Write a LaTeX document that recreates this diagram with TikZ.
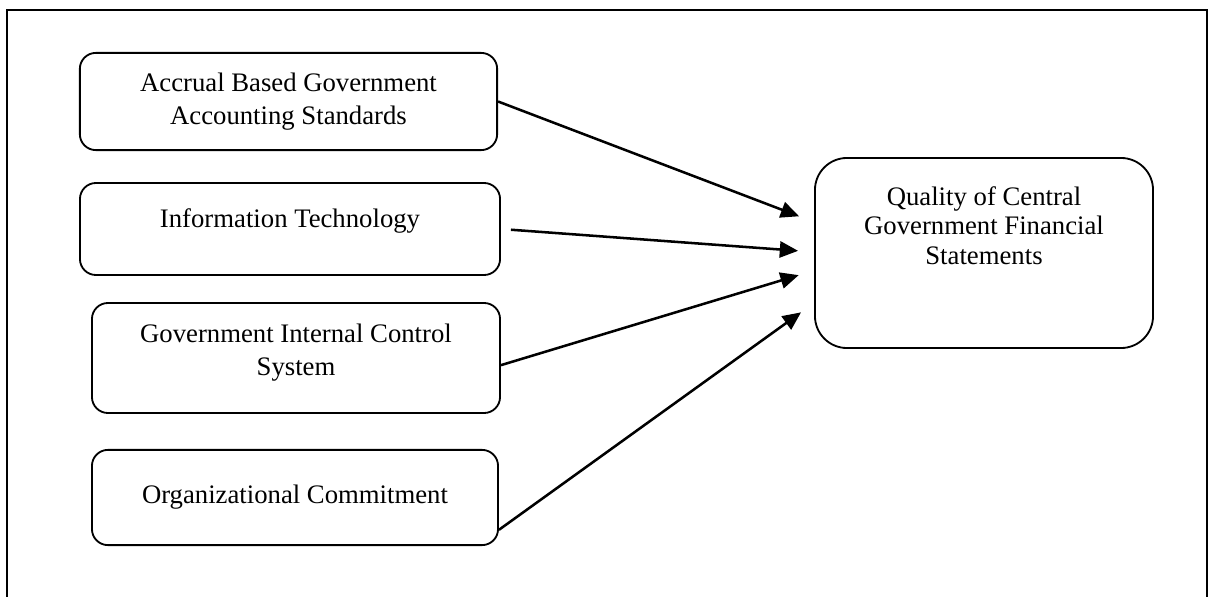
\documentclass[tikz,border=0pt]{standalone}
\usepackage{fontspec}
\setmainfont{Liberation Serif}
\usetikzlibrary{positioning,arrows.meta,calc}
\tikzset{
    % rounded boxes for the independent variables
    factor/.style={draw, rectangle, rounded corners=0.4cm, align=center,
                   line width=1.3pt, inner sep=2pt},
    % larger box for the dependent variable
    outcome/.style={draw, rectangle, rounded corners=0.8cm, align=center,
                    line width=1.3pt, inner sep=2pt,
                    minimum width=8.45cm, minimum height=4.75cm},
    % influence arrows
    effect/.style={-{Triangle[length=13pt,width=11.5pt]}, line width=1.8pt,
                   shorten >=0.4cm}
}

\begin{document}
\begin{tikzpicture}[x=0.025cm, y=-0.025cm,
                    font=\fontsize{19pt}{23.5pt}\selectfont]
    % Frame
    \useasboundingbox (0,0) rectangle (1212,597);
    \draw[line width=1.2pt] (7,10) rectangle (1207,620);

    % Factors
    \node[factor, minimum width=10.43cm, minimum height=2.43cm] (abgas) at (288.5,101.5)
        {Accrual Based Government\\Accounting Standards};
    \node[factor, minimum width=10.5cm, minimum height=2.3cm] (infotech) at (290,229)
        {Information Technology\\[-8pt]~};
    \node[factor, minimum width=10.2cm, minimum height=2.75cm] (gics) at (296,358)
        {Government Internal Control\\System\\[-12pt]~};
    \node[factor, minimum width=10.15cm, minimum height=2.38cm] (orgcom) at (295,497.5)
        {Organizational Commitment};

    % Quality of financial statements
    \node[outcome, font=\fontsize{19pt}{21pt}\selectfont] (qcgfs) at (984,253)
        {Quality of Central\\Government Financial\\Statements\\[18pt]~};

    % Entry points on the left side of the target
    \coordinate (inA) at (qcgfs.west |- 0,222);
    \coordinate (inB) at (qcgfs.west |- 0,252);
    \coordinate (inC) at (qcgfs.west |- 0,270.5);
    \coordinate (inD) at (qcgfs.west |- 0,303);

    % Arrows
    \draw[effect] (abgas.east) -- (inA);
    \draw[effect, shorten <=0.25cm] (infotech.east) -- (inB);
    \draw[effect] (gics.-2) -- (inC);
    \draw[effect] (orgcom.-9) -- (inD);
\end{tikzpicture}
\end{document}
